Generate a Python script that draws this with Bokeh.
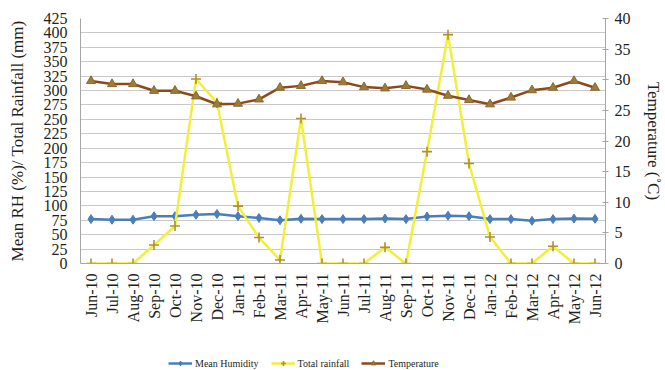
import math
from bokeh.plotting import figure
from bokeh.layouts import column
from bokeh.models import (FactorRange, Range1d, LinearAxis, SingleIntervalTicker,
                          Legend, LegendItem)
from bokeh.embed import file_html
from bokeh.resources import INLINE

months = ["Jun-10", "Jul-10", "Aug-10", "Sep-10", "Oct-10", "Nov-10", "Dec-10",
          "Jan-11", "Feb-11", "Mar-11", "Apr-11", "May-11", "Jun-11", "Jul-11",
          "Aug-11", "Sep-11", "Oct-11", "Nov-11", "Dec-11", "Jan-12", "Feb-12",
          "Mar-12", "Apr-12", "May-12", "Jun-12"]
humidity = [77, 76, 76, 82, 82, 84.5, 86, 82, 79, 75, 77.5, 77, 77, 77, 78, 77,
            81.5, 83, 82, 77, 77, 74, 77, 78, 77.5]
rainfall = [0, 0, 0, 32, 65, 320, 279, 99.5, 45, 6, 251.6, 0, 0, 0, 28, 0,
            194, 397, 173.5, 46, 0, 0, 30, 0, 0]
temperature = [29.8, 29.3, 29.3, 28.2, 28.2, 27.3, 26.0, 26.1, 26.8, 28.7, 29.0,
               29.8, 29.6, 28.8, 28.6, 29.0, 28.4, 27.4, 26.7, 26.0, 27.1, 28.3,
               28.7, 29.8, 28.7]
series_names = ["Mean Humidity", "Total rainfall", "Temperature"]

FONT = "Liberation Serif"
GRID = "#c9c9c9"
AXIS = "#a6a6a6"
TXT = "#231f20"

HUM_C = "#4a7ebb"
RAIN_C = "#f2ef3c"
RAIN_M = "#b58d2c"
TEMP_C = "#8b4a1e"
TEMP_F = "#9c7a3a"
TEMP_L = "#8a6a2e"

p = figure(width=665, height=335, x_range=FactorRange(factors=months),
           y_range=Range1d(0, 425), output_backend="svg", toolbar_location=None,
           min_border_left=80, min_border_right=54, min_border_top=18,
           min_border_bottom=72)
p.extra_y_ranges = {"temp": Range1d(0, 40)}
p.outline_line_color = None
p.xgrid.grid_line_color = None
p.ygrid.grid_line_color = GRID
p.ygrid.grid_line_width = 1

# left axis
p.yaxis.ticker = SingleIntervalTicker(interval=25)
p.yaxis.axis_label = "Mean RH (%)/ Total Rainfall (mm)"
p.yaxis.axis_label_text_font = FONT
p.yaxis.axis_label_text_font_size = "17px"
p.yaxis.axis_label_text_font_style = "normal"
p.yaxis.axis_label_text_color = TXT
p.yaxis.axis_label_standoff = 14
p.yaxis.major_label_text_font = FONT
p.yaxis.major_label_text_font_size = "16px"
p.yaxis.major_label_text_color = TXT
p.yaxis.major_label_standoff = 9
p.yaxis.major_tick_line_color = None
p.yaxis.major_tick_out = 0
p.yaxis.major_tick_in = 0
p.yaxis.minor_tick_line_color = None
p.yaxis.axis_line_color = AXIS

# x axis
p.xaxis.major_label_orientation = math.pi / 2
p.xaxis.major_label_text_font = FONT
p.xaxis.major_label_text_font_size = "16px"
p.xaxis.major_label_text_color = TXT
p.xaxis.major_label_standoff = 10
p.xaxis.major_tick_line_color = None
p.xaxis.major_tick_out = 0
p.xaxis.major_tick_in = 0
p.xaxis.axis_line_color = AXIS

# right axis
raxis = LinearAxis(y_range_name="temp", ticker=SingleIntervalTicker(interval=5),
                   axis_label="Temperature (\u02daC)")
raxis.axis_label_text_font = FONT
raxis.axis_label_text_font_size = "17px"
raxis.axis_label_text_font_style = "normal"
raxis.axis_label_text_color = TXT
raxis.axis_label_standoff = 10
raxis.major_label_text_font = FONT
raxis.major_label_text_font_size = "16px"
raxis.major_label_text_color = TXT
raxis.major_label_standoff = 5
raxis.major_tick_in = 3
raxis.major_tick_out = 3
raxis.major_tick_line_color = AXIS
raxis.minor_tick_line_color = None
raxis.axis_line_color = AXIS
p.add_layout(raxis, "right")


def draw_series(fig, msize, psize, y_range_temp="temp"):
    r = []
    r.append(fig.line(months, humidity, line_color=HUM_C, line_width=2.5))
    r.append(fig.scatter(months, humidity, marker="diamond", size=msize,
                         fill_color=HUM_C, line_color=HUM_C))
    r.append(fig.line(months, rainfall, line_color=RAIN_C, line_width=2.5))
    r.append(fig.scatter(months, rainfall, marker="cross", size=psize,
                         line_color=RAIN_M, line_width=1.6))
    r.append(fig.line(months, temperature, y_range_name=y_range_temp,
                      line_color=TEMP_C, line_width=2.5))
    r.append(fig.scatter(months, temperature, y_range_name=y_range_temp,
                         marker="triangle", size=msize, fill_color=TEMP_F,
                         line_color=TEMP_L))
    return r


draw_series(p, 9, 10)

# legend strip: a small figure whose view range lies outside the data,
# so only its legend shows (and is not clipped by the main frame)
lf = figure(width=665, height=35, x_range=FactorRange(factors=months),
            y_range=Range1d(1000, 1001), output_backend="svg",
            toolbar_location=None, min_border=0)
lf.extra_y_ranges = {"temp": Range1d(1000, 1001)}
lf.axis.visible = False
lf.grid.grid_line_color = None
lf.outline_line_color = None
rr = draw_series(lf, 6, 7)

legend = Legend(items=[LegendItem(label=series_names[0], renderers=rr[0:2]),
                       LegendItem(label=series_names[1], renderers=rr[2:4]),
                       LegendItem(label=series_names[2], renderers=rr[4:6])],
                orientation="horizontal", location=(88, 1),
                label_text_font=FONT, label_text_font_size="10px",
                label_text_color=TXT, glyph_width=24, glyph_height=12,
                label_standoff=3, spacing=12, border_line_color=None,
                background_fill_alpha=0, margin=0, padding=4)
lf.add_layout(legend, "center")

open("out.html", "w").write(file_html(column(p, lf, spacing=0), INLINE))
